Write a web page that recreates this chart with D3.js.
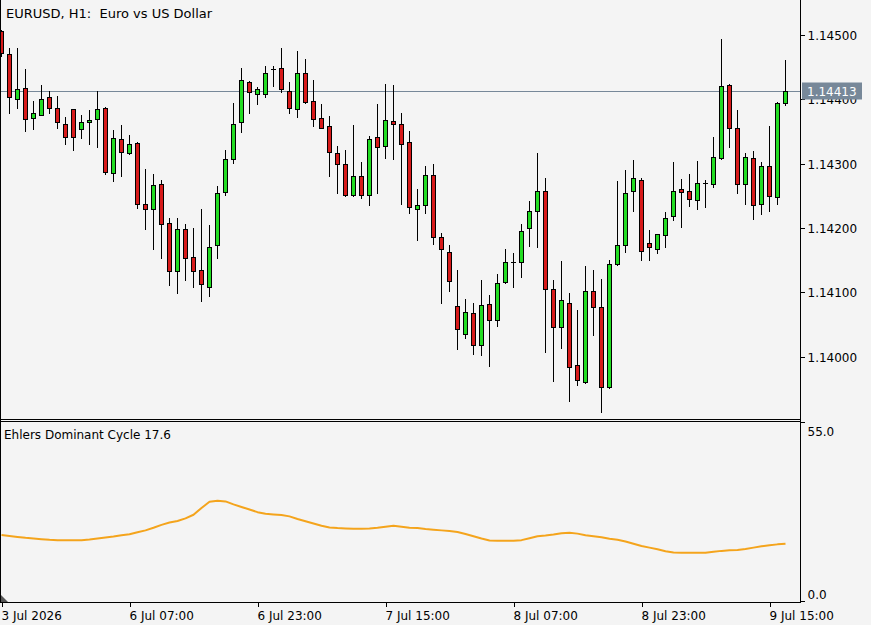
<!DOCTYPE html>
<html><head><meta charset="utf-8">
<script src="https://cdn.jsdelivr.net/npm/d3@7"></script>
<style>
html,body{margin:0;padding:0;background:#f4f4f4;}
svg{display:block;font-family:"DejaVu Sans",sans-serif;}
</style></head><body>
<svg id="c" width="871" height="625"></svg>
<script>
const title = "EURUSD, H1:  Euro vs US Dollar";
const indicatorName = "Ehlers Dominant Cycle";
const lastPrice = 1.14413;

const open = [1.14506,1.14470,1.14401,1.14417,1.14370,1.14376,1.14403,1.14386,1.14362,1.14384,
1.14353,1.14364,1.14369,1.14386,1.14286,1.14338,1.14317,1.14332,1.14238,1.14229,
1.14268,1.14208,1.14134,1.14198,1.14155,1.14135,1.14108,1.14173,1.14256,1.14307,
1.14364,1.14427,1.14408,1.14408,1.14447,1.14449,1.14413,1.14384,1.14440,1.14397,
1.14370,1.14358,1.14317,1.14299,1.14252,1.14281,1.14252,1.14341,1.14328,1.14366,
1.14362,1.14333,1.14230,1.14235,1.14283,1.14186,1.14163,1.14079,1.14035,1.14068,
1.14018,1.14082,1.14057,1.14116,1.14147,1.14147,1.14200,1.14227,1.14258,1.14105,
1.14046,1.14083,1.13987,1.13961,1.14102,1.14077,1.13954,1.14144,1.14173,1.14258,
1.14275,1.14176,1.14168,1.14189,1.14218,1.14260,1.14258,1.14243,1.14270,1.14268,
1.14308,1.14422,1.14355,1.14268,1.14308,1.14238,1.14297,1.14248,1.14394];
const high = [1.14507,1.14479,1.14479,1.14447,1.14397,1.14422,1.14413,1.14405,1.14372,1.14385,
1.14376,1.14383,1.14413,1.14388,1.14352,1.14360,1.14344,1.14334,1.14292,1.14284,
1.14275,1.14215,1.14215,1.14207,1.14200,1.14229,1.14205,1.14265,1.14321,1.14394,
1.14449,1.14428,1.14419,1.14451,1.14451,1.14479,1.14426,1.14474,1.14463,1.14430,
1.14392,1.14374,1.14327,1.14321,1.14360,1.14302,1.14343,1.14392,1.14423,1.14422,
1.14378,1.14351,1.14261,1.14296,1.14299,1.14193,1.14174,1.14135,1.14090,1.14083,
1.14119,1.14096,1.14128,1.14167,1.14161,1.14207,1.14242,1.14316,1.14277,1.14119,
1.14149,1.14099,1.14073,1.14141,1.14135,1.14121,1.14150,1.14273,1.14290,1.14306,
1.14278,1.14197,1.14191,1.14225,1.14302,1.14276,1.14284,1.14304,1.14275,1.14341,
1.14494,1.14423,1.14383,1.14316,1.14320,1.14302,1.14359,1.14395,1.14461];
const low = [1.14467,1.14379,1.14387,1.14351,1.14354,1.14375,1.14379,1.14356,1.14330,1.14321,
1.14340,1.14330,1.14325,1.14284,1.14273,1.14280,1.14315,1.14231,1.14199,1.14167,
1.14153,1.14112,1.14099,1.14120,1.14108,1.14086,1.14095,1.14154,1.14251,1.14301,
1.14349,1.14379,1.14392,1.14404,1.14421,1.14411,1.14379,1.14372,1.14394,1.14359,
1.14355,1.14281,1.14254,1.14249,1.14250,1.14247,1.14235,1.14254,1.14309,1.14307,
1.14238,1.14223,1.14182,1.14224,1.14175,1.14083,1.14103,1.14013,1.14029,1.14004,
1.14003,1.13986,1.14048,1.14115,1.14109,1.14124,1.14172,1.14171,1.14008,1.13963,
1.14014,1.13932,1.13957,1.13959,1.14034,1.13915,1.13951,1.14143,1.14163,1.14227,
1.14151,1.14151,1.14161,1.14171,1.14212,1.14201,1.14234,1.14229,1.14232,1.14263,
1.14307,1.14326,1.14255,1.14238,1.14214,1.14221,1.14227,1.14238,1.14391];
const close = [1.14471,1.14403,1.14415,1.14369,1.14378,1.14401,1.14387,1.14365,1.14342,1.14342,
1.14364,1.14367,1.14384,1.14287,1.14339,1.14318,1.14330,1.14238,1.14230,1.14266,
1.14207,1.14134,1.14198,1.14153,1.14133,1.14113,1.14171,1.14254,1.14307,1.14362,
1.14429,1.14411,1.14415,1.14440,1.14447,1.14415,1.14386,1.14440,1.14395,1.14369,
1.14356,1.14318,1.14299,1.14252,1.14281,1.14252,1.14338,1.14325,1.14368,1.14362,
1.14331,1.14232,1.14235,1.14283,1.14186,1.14167,1.14118,1.14043,1.14069,1.14018,
1.14081,1.14057,1.14114,1.14147,1.14147,1.14196,1.14227,1.14258,1.14105,1.14046,
1.14088,1.13985,1.13964,1.14102,1.14077,1.13954,1.14144,1.14173,1.14254,1.14277,
1.14164,1.14171,1.14190,1.14215,1.14258,1.14256,1.14245,1.14270,1.14270,1.14310,
1.14420,1.14356,1.14268,1.14310,1.14235,1.14297,1.14249,1.14394,1.14413];

const cycle = [20.3,20.0,19.7,19.4,19.2,19.0,18.8,18.7,18.7,18.7,
18.7,18.9,19.2,19.5,19.8,20.2,20.5,21.1,21.7,22.5,
23.4,24.1,24.6,25.4,26.5,28.6,30.5,30.8,30.6,29.7,
28.9,28.1,27.3,26.8,26.6,26.4,26.0,25.2,24.5,23.8,
23.1,22.6,22.4,22.3,22.2,22.2,22.3,22.5,22.8,23.1,
22.8,22.5,22.4,22.1,21.9,21.7,21.5,21.2,20.6,19.9,
19.2,18.6,18.5,18.5,18.5,18.7,19.3,19.9,20.1,20.4,
20.8,21.0,20.7,20.2,19.9,19.6,19.1,18.8,18.3,17.6,
16.9,16.4,15.9,15.3,14.9,14.8,14.8,14.8,14.8,15.1,
15.4,15.6,15.7,16.0,16.4,16.8,17.1,17.4,17.6];

const priceTicks = [1.14000,1.14100,1.14200,1.14300,1.14400,1.14500];
const cycleTicks = [0,55];
const timeTickIndex = [0,16,32,48,64,80,96];
const timeTickLabels = ["3 Jul 2026","6 Jul 07:00","6 Jul 23:00","7 Jul 15:00","8 Jul 07:00","8 Jul 23:00","9 Jul 15:00"];

const svg = d3.select("#c");
const AX = 800;           // right axis x
const P1 = [0, 419];      // main panel top/bottom
const P2 = [421, 602];    // indicator panel top/bottom
const n = close.length;

const x = d3.scaleLinear().domain([0, n-1]).range([1.5, 1.5 + 8*(n-1)]);
const y = d3.scaleLinear().domain([1.139036, 1.145539]).range([P1[1], P1[0]]);
const yc = d3.scaleLinear().domain([0, 55]).range([601, 422]);

const FS = 12;
const snap = v => Math.round(v) + 0.5;

// clip paths
const defs = svg.append("defs");
defs.append("clipPath").attr("id","cp1").append("rect").attr("x",1).attr("y",P1[0]).attr("width",AX-1).attr("height",P1[1]-P1[0]);
defs.append("clipPath").attr("id","cp2").append("rect").attr("x",1).attr("y",P2[0]+1).attr("width",AX-1).attr("height",P2[1]-P2[0]-1);

// current price line
svg.append("line").attr("x1",0).attr("x2",AX).attr("y1",snap(y(lastPrice))).attr("y2",snap(y(lastPrice)))
  .attr("stroke","#778899").attr("stroke-width",1).attr("shape-rendering","crispEdges");

// candles
const gC = svg.append("g").attr("clip-path","url(#cp1)").attr("shape-rendering","crispEdges");
const idx = d3.range(n);
gC.selectAll("line.w").data(idx).join("line").attr("class","w")
  .attr("x1", i => x(i)).attr("x2", i => x(i))
  .attr("y1", i => Math.round(y(high[i]))).attr("y2", i => Math.round(y(low[i]))+1)
  .attr("stroke","#000").attr("stroke-width",1);
gC.selectAll("rect.b").data(idx.filter(i => open[i] !== close[i])).join("rect").attr("class","b")
  .attr("x", i => x(i) - 2).attr("width", 4)
  .attr("y", i => snap(y(Math.max(open[i], close[i]))))
  .attr("height", i => Math.max(1, Math.round(y(Math.min(open[i], close[i]))) - Math.round(y(Math.max(open[i], close[i])))))
  .attr("fill", i => close[i] > open[i] ? "#22dc22" : "#d71a1a")
  .attr("stroke","#000").attr("stroke-width",1);
gC.selectAll("line.d").data(idx.filter(i => open[i] === close[i])).join("line").attr("class","d")
  .attr("x1", i => x(i) - 2.5).attr("x2", i => x(i) + 2.5)
  .attr("y1", i => snap(y(close[i]))).attr("y2", i => snap(y(close[i])))
  .attr("stroke","#000").attr("stroke-width",1);

// indicator line
const gI = svg.append("g").attr("clip-path","url(#cp2)");
gI.append("path").datum(cycle)
  .attr("d", d3.line().x((d,i) => x(i)).y(d => yc(d)))
  .attr("fill","none").attr("stroke","#f4a41c").attr("stroke-width",2).attr("stroke-linejoin","round");

// frames
const fr = svg.append("g").attr("stroke","#000").attr("stroke-width",1).attr("shape-rendering","crispEdges");
fr.append("line").attr("x1",0.5).attr("x2",0.5).attr("y1",0).attr("y2",P2[1]+0.5);
fr.append("line").attr("x1",0).attr("x2",AX).attr("y1",P1[1]+0.5).attr("y2",P1[1]+0.5);
fr.append("line").attr("x1",0).attr("x2",AX).attr("y1",P2[0]+0.5).attr("y2",P2[0]+0.5);
fr.append("line").attr("x1",0).attr("x2",AX+1).attr("y1",P2[1]+0.5).attr("y2",P2[1]+0.5);

// corner marker
svg.append("path").attr("d",`M1,${P2[1]-7} L8,${P2[1]} L1,${P2[1]} Z`).attr("fill","#555");

// price axis
const ga = svg.append("g").attr("transform",`translate(${AX+0.5},0)`)
  .call(d3.axisRight(y).tickValues(priceTicks).tickSize(4).tickPadding(3).tickFormat(d3.format(".5f")));
ga.select(".domain").attr("d",`M0,0V${P2[1]+1}`).attr("stroke","#000").attr("shape-rendering","crispEdges");
ga.selectAll(".tick line").attr("stroke","#000").attr("shape-rendering","crispEdges");
ga.selectAll(".tick").attr("transform", d => `translate(0,${snap(y(d))})`);
ga.selectAll(".tick text").attr("font-family","DejaVu Sans").attr("font-size",FS).attr("fill","#000").attr("dy",null).attr("y",4.5);

// indicator axis
const gb = svg.append("g").attr("transform",`translate(${AX+0.5},0)`)
  .call(d3.axisRight(yc).tickValues(cycleTicks).tickSize(4).tickPadding(3).tickFormat(d3.format(".1f")));
gb.select(".domain").remove();
gb.selectAll(".tick line").attr("stroke","#000").attr("shape-rendering","crispEdges");
gb.selectAll(".tick").attr("transform", d => `translate(0,${snap(yc(d))})`);
gb.selectAll(".tick text").attr("font-family","DejaVu Sans").attr("font-size",FS).attr("fill","#000").attr("dy",null)
  .attr("y", d => d === 55 ? 13 : -2.5);

// current price label
const py = y(lastPrice);
svg.append("rect").attr("x",AX+2).attr("y",Math.round(py)-8.5).attr("width",60).attr("height",17).attr("fill","#778899");
svg.append("text").attr("x",AX+7).attr("y",Math.round(py)+4.5).attr("font-size",FS).attr("fill","#fff")
  .text(d3.format(".5f")(lastPrice));

// time axis
const gt = svg.append("g").attr("transform",`translate(0,${P2[1]+0.5})`)
  .call(d3.axisBottom(x).tickValues(timeTickIndex).tickSize(4).tickFormat((d,i) => timeTickLabels[i]));
gt.select(".domain").remove();
gt.selectAll(".tick line").attr("stroke","#000").attr("shape-rendering","crispEdges");
gt.selectAll(".tick text").attr("font-family","DejaVu Sans").attr("font-size",FS).attr("fill","#000")
  .attr("text-anchor","start").attr("dy",null).attr("x",-0.5).attr("y",17);

// titles
svg.append("text").attr("x",6).attr("y",18).attr("font-size",13).attr("fill","#000")
  .attr("xml:space","preserve").style("white-space","pre").text(title);
svg.append("text").attr("x",4).attr("y",439).attr("font-size",FS).attr("fill","#000")
  .text(indicatorName + " " + d3.format(".1f")(cycle[n-1]));
</script>
</body></html>
